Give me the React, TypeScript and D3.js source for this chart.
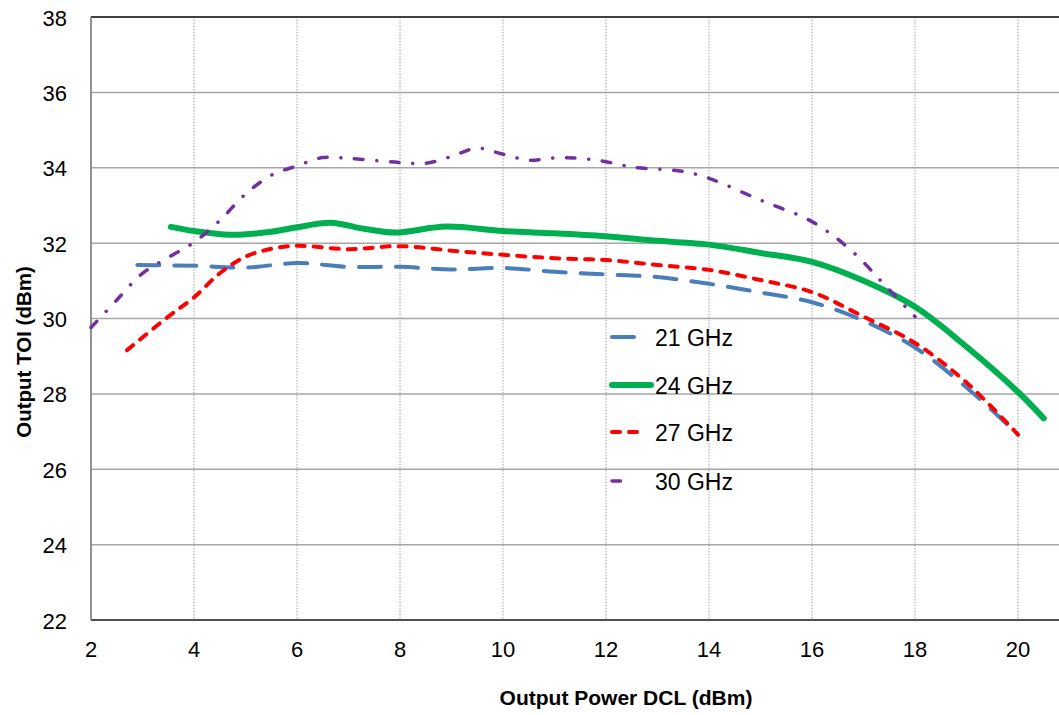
import React from "react";
import * as d3 from "d3";

const xTicks = [2, 4, 6, 8, 10, 12, 14, 16, 18, 20];
const yTicks = [22, 24, 26, 28, 30, 32, 34, 36, 38];

const x21 = [2.9, 4, 5, 6, 7, 8, 9, 10, 11, 12, 13, 14, 15, 16, 17, 18, 19, 20];
const y21 = [31.42, 31.4, 31.35, 31.47, 31.37, 31.37, 31.3, 31.34, 31.24, 31.17, 31.1, 30.92, 30.69, 30.43, 29.94, 29.23, 28.17, 26.92];

const x24 = [3.55, 4, 4.7, 5.5, 6, 6.65, 7.3, 7.9, 8.9, 10, 11, 12, 13, 14, 15, 16, 17, 18, 19, 20, 20.5];
const y24 = [32.43, 32.32, 32.22, 32.3, 32.42, 32.54, 32.38, 32.28, 32.44, 32.32, 32.26, 32.18, 32.06, 31.96, 31.74, 31.5, 31.0, 30.31, 29.25, 28.05, 27.35];

const x27 = [2.7, 3.5, 4, 4.5, 5, 5.5, 6, 7, 8, 9, 10, 11, 12, 13, 14, 15, 16, 17, 18, 19, 20];
const y27 = [29.16, 30.05, 30.56, 31.2, 31.64, 31.85, 31.93, 31.84, 31.92, 31.8, 31.69, 31.6, 31.55, 31.42, 31.29, 31.02, 30.7, 30.05, 29.35, 28.3, 26.92];

const x30 = [2, 2.5, 3, 3.5, 4, 4.5, 5, 5.5, 6, 6.5, 7, 8, 8.5, 9, 9.5, 10, 10.5, 11, 11.5, 12, 12.5, 13.5, 14, 15, 16, 16.75, 17.5, 18];
const y30 = [29.76, 30.49, 31.2, 31.62, 32.02, 32.6, 33.3, 33.8, 34.05, 34.27, 34.25, 34.14, 34.12, 34.3, 34.52, 34.36, 34.2, 34.26, 34.25, 34.16, 34.02, 33.9, 33.72, 33.14, 32.57, 31.82, 30.76, 30.05];

const seriesNames = ["21 GHz", "24 GHz", "27 GHz", "30 GHz"];
const seriesX = [x21, x24, x27, x30];
const seriesY = [y21, y24, y27, y30];

const styles = [
  { color: "#4a7ebb", width: 4, dash: "22 15" },
  { color: "#00b050", width: 6, dash: "" },
  { color: "#ff0000", width: 4, dash: "8 9" },
  { color: "#7030a0", width: 3.5, dash: "8.5 13.75 0.1 13.65" },
];

const W = 1059;
const H = 715;
const left = 91;
const top = 17;
const bottom = 620;

export default function App() {
  const x = d3.scaleLinear().domain([2, 21]).range([left, left + 19 * 51.5]);
  const y = d3.scaleLinear().domain([22, 38]).range([bottom, top]);
  const line = d3
    .line<[number, number]>()
    .x((d) => x(d[0]))
    .y((d) => y(d[1]))
    .curve(d3.curveCatmullRom.alpha(0.5));

  const font = "Arial, 'Liberation Sans', sans-serif";
  const legendY = [337, 385, 432, 481];

  return (
    <svg
      width={W}
      height={H}
      style={{ position: "absolute", left: 0, top: 0, background: "#fff" }}
      fontFamily={font}
    >
      <rect x={0} y={0} width={W} height={H} fill="#fff" />
      {yTicks.slice(1, -1).map((t) => (
        <line key={"h" + t} x1={left} x2={W} y1={y(t)} y2={y(t)} stroke="#a6a6a6" strokeWidth={1.5} />
      ))}
      {xTicks.slice(1).map((t) => (
        <line key={"v" + t} x1={x(t)} x2={x(t)} y1={top} y2={bottom} stroke="#a0a0a0" strokeWidth={1} strokeDasharray="1.5 1.5" />
      ))}
      <line x1={left} x2={W} y1={top} y2={top} stroke="#404040" strokeWidth={1.8} />
      <line x1={left} x2={W} y1={bottom} y2={bottom} stroke="#505050" strokeWidth={1.8} />
      <line x1={left} x2={left} y1={top} y2={bottom} stroke="#868686" strokeWidth={1.8} />

      {seriesX.map((xs, i) => {
        const pts: [number, number][] = xs.map((v, j) => [v, seriesY[i][j]]);
        const s = styles[i];
        return (
          <path
            key={"s" + i}
            d={line(pts) || ""}
            fill="none"
            stroke={s.color}
            strokeWidth={s.width}
            strokeDasharray={s.dash || undefined}
            strokeLinecap="round"
            strokeLinejoin="round"
          />
        );
      })}

      {yTicks.map((t) => (
        <text key={"yl" + t} x={67} y={y(t) + 1} textAnchor="end" dominantBaseline="central" fontSize={22} fill="#000">
          {t}
        </text>
      ))}
      {xTicks.map((t) => (
        <text key={"xl" + t} x={x(t)} y={649} textAnchor="middle" dominantBaseline="central" fontSize={22} fill="#000">
          {t}
        </text>
      ))}

      <text x={626} y={697} textAnchor="middle" dominantBaseline="central" fontSize={21} fontWeight="bold" fill="#000">
        Output Power DCL (dBm)
      </text>
      <text
        transform={`translate(23,352) rotate(-90)`}
        textAnchor="middle"
        dominantBaseline="central"
        fontSize={20.5}
        fontWeight="bold"
        fill="#000"
      >
        Output TOI (dBm)
      </text>

      {seriesNames.map((n, i) => {
        const s = styles[i];
        return (
          <g key={"lg" + i}>
            <line
              x1={612}
              x2={i === 1 ? 651 : i === 2 ? 646 : 634}
              y1={legendY[i]}
              y2={legendY[i]}
              stroke={s.color}
              strokeWidth={s.width}
              strokeDasharray={s.dash || undefined}
              strokeLinecap="round"
            />
            <text x={655} y={legendY[i] + 1} dominantBaseline="central" fontSize={23} fill="#000">
              {n}
            </text>
          </g>
        );
      })}
    </svg>
  );
}
